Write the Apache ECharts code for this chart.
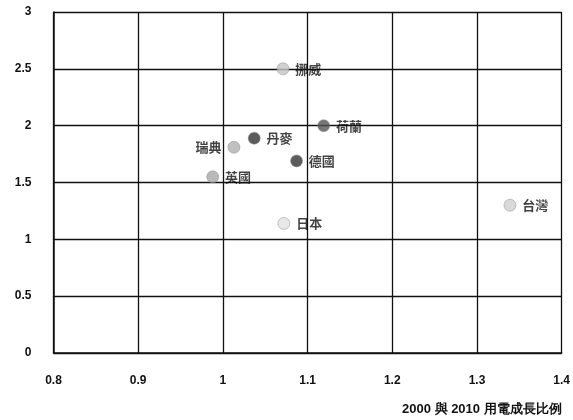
<!DOCTYPE html>
<html><head><meta charset="utf-8">
<script src="https://cdn.jsdelivr.net/npm/echarts@6/dist/echarts.min.js"></script>
<style>html,body{margin:0;padding:0;background:#fff}#c{width:573px;height:420px}</style>
</head><body><div id="c"></div>
<script>
const countries = ['挪威','荷蘭','丹麥','瑞典','德國','英國','日本','台灣'];
const growthRatio = [1.071,1.119,1.037,1.013,1.087,0.988,1.072,1.339];
const yValues = [2.50,2.00,1.89,1.81,1.69,1.55,1.14,1.30];
const xAxisTitle = '2000 與 2010 用電成長比例';

const pointColors = {'挪威':'#c4c4c4','荷蘭':'#555','丹麥':'#333','瑞典':'#b0b0b0','德國':'#333','英國':'#a8a8a8','日本':'#e2e2e2','台灣':'#cfcfcf'};
const leftLabel = {'瑞典':true};

const chart = echarts.init(document.getElementById('c'));
const data = countries.map((n,i)=>({
  value:[growthRatio[i], yValues[i]], name:n,
  itemStyle:{color:pointColors[n], borderColor:'#888', borderWidth:0.6},
  label:{position: leftLabel[n] ? 'left' : 'right'}
}));
const font = '"Liberation Sans", Arial, sans-serif';
chart.setOption({
  animation:false,
  grid:{left:53.5,right:9.5,top:12,bottom:67,containLabel:false},
  xAxis:{type:'value',min:0.8,max:1.4,interval:0.1,
    name:xAxisTitle,nameLocation:'end',nameGap:0,
    nameTextStyle:{fontFamily:font,fontWeight:'bold',fontSize:13,color:'#111',align:'right',verticalAlign:'top',padding:[50,0,0,0]},
    axisLine:{show:true,lineStyle:{color:'#111',width:1.5}},
    axisTick:{show:false},
    axisLabel:{fontFamily:font,fontWeight:'bold',fontSize:12,color:'#111',margin:22,
      formatter:v=>String(+v.toFixed(1))},
    splitLine:{show:true,lineStyle:{color:'#111',width:1.3}}},
  yAxis:{type:'value',min:0,max:3,interval:0.5,
    axisLine:{show:true,lineStyle:{color:'#111',width:1.5}},
    axisTick:{show:false},
    axisLabel:{fontFamily:font,fontWeight:'bold',fontSize:12,color:'#111',margin:22,
      formatter:v=>String(+v.toFixed(1))},
    splitLine:{show:true,lineStyle:{color:'#111',width:1.3}}},
  series:[{type:'scatter',symbolSize:12,data:data,
    label:{show:true,formatter:'{b}',fontFamily:'"Noto Sans CJK TC", sans-serif',fontSize:13,fontWeight:'bold',color:'#111',distance:6}}]
});
</script></body></html>
